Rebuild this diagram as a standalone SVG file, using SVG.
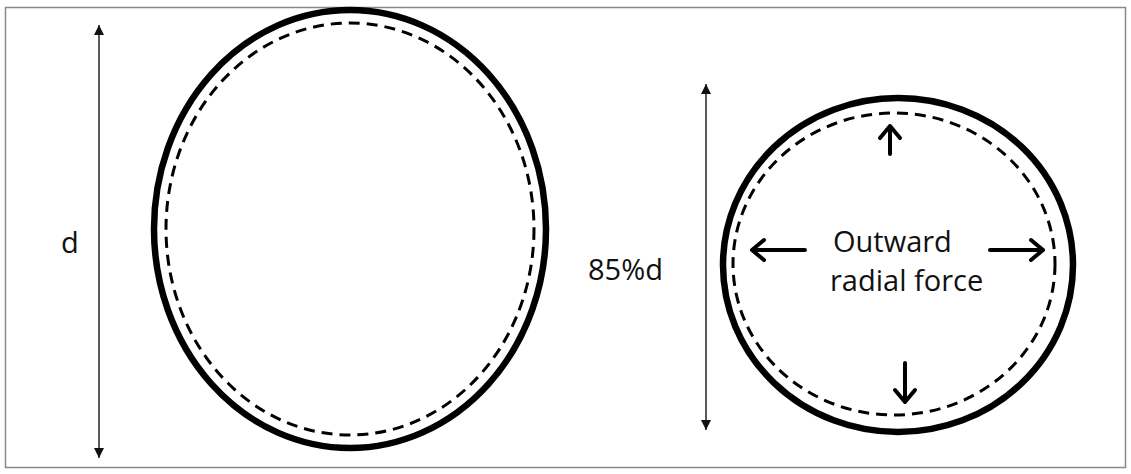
<svg xmlns="http://www.w3.org/2000/svg" width="1131" height="474" viewBox="0 0 1131 474">
<defs>
<style>
.ring{fill:none;stroke:#000;stroke-width:6.5}
.dash{fill:none;stroke:#000;stroke-width:3;stroke-dasharray:11 7}
.dim{stroke:#333;stroke-width:1.6;fill:none}
.force{stroke:#000;stroke-width:4;fill:none;stroke-linecap:round;stroke-linejoin:round}
.lbl{font-family:"Open Sans","Noto Sans","Liberation Sans",sans-serif;font-size:29px;fill:#111}
</style>
<marker id="tri" viewBox="0 0 10 10" refX="10" refY="5" markerWidth="10" markerHeight="11" markerUnits="userSpaceOnUse" orient="auto-start-reverse">
<path d="M0,0 L10,5 L0,10 Z" fill="#111"/>
</marker>
</defs>
<rect x="5.5" y="7.5" width="1120" height="460" fill="#fff" stroke="#888" stroke-width="1.5"/>
<g id="nominal">
<ellipse class="ring" cx="350" cy="229" rx="196" ry="219"/>
<ellipse class="dash" cx="350" cy="229" rx="184" ry="206"/>
</g>
<g id="compressed">
<ellipse class="ring" cx="898" cy="265" rx="175" ry="167"/>
<ellipse class="dash" cx="894" cy="264" rx="161" ry="151"/>
</g>
<g id="labels">
<text class="lbl" x="61" y="253">d</text>
<text class="lbl" x="588" y="280">85%d</text>
<text class="lbl" x="833" y="252">Outward</text>
<text class="lbl" x="830" y="291">radial force</text>
</g>
<g id="connectors">
<line class="dim" x1="99" y1="240" x2="99" y2="25" marker-end="url(#tri)"/>
<line class="dim" x1="99" y1="240" x2="99" y2="458" marker-end="url(#tri)"/>
<line class="dim" x1="706" y1="260" x2="706" y2="84" marker-end="url(#tri)"/>
<line class="dim" x1="706" y1="260" x2="706" y2="430" marker-end="url(#tri)"/>
<path class="force" d="M805,250 H752 M764,240 L752,250 L764,260"/>
<path class="force" d="M990,250 H1043 M1031,240 L1043,250 L1031,260"/>
<path class="force" d="M890,154 V126 M880,138 L890,126 L900,138"/>
<path class="force" d="M905,363 V402 M895,390 L905,402 L915,390"/>
</g>
</svg>
